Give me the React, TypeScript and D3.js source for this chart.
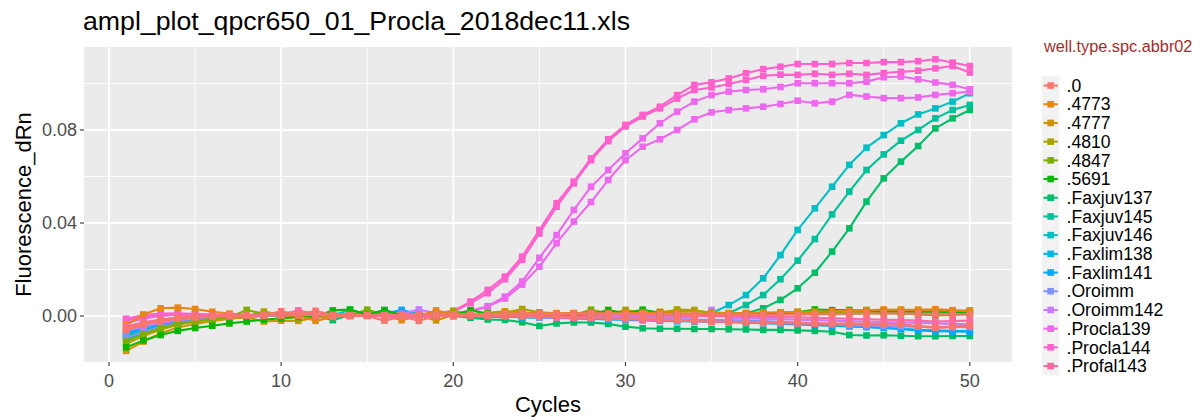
import React from "react";
import * as d3 from "d3";

// ---- data -------------------------------------------------------------
const cycles = Array.from({ length: 50 }, (_, i) => i + 1);

const typeLevels = [
  ".0", ".4773", ".4777", ".4810", ".4847", ".5691",
  ".Faxjuv137", ".Faxjuv145", ".Faxjuv146", ".Faxlim138", ".Faxlim141",
  ".Oroimm", ".Oroimm142", ".Procla139", ".Procla144", ".Profal143",
];

const xTicks = [0, 10, 20, 30, 40, 50];
const xMinor = [5, 15, 25, 35, 45];
const yTicks = [0, 0.04, 0.08];
const yMinor = [0.02, 0.06, 0.1];

// amplifying wells
const procla144a = [
  -0.0012, 0.0004, 0.0010, 0.0011, 0.0008, 0.0005, 0.0003, 0.0002, 0.0001, 0.0000,
  0.0000, 0.0001, 0.0002, 0.0003, 0.0004, 0.0005, 0.0006, 0.0008, 0.0012, 0.0022,
  0.0062, 0.0112, 0.0169, 0.0255, 0.0370, 0.0485, 0.0578, 0.0678, 0.0760, 0.0822,
  0.0865, 0.0900, 0.0950, 0.0994, 0.1005, 0.1022, 0.1044, 0.1062, 0.1072, 0.1084,
  0.1084, 0.1084, 0.1088, 0.1088, 0.1092, 0.1092, 0.1096, 0.1104, 0.1090, 0.1075,
];
const procla144b = [
  -0.0020, -0.0004, 0.0005, 0.0008, 0.0007, 0.0005, 0.0003, 0.0002, 0.0001, 0.0001,
  0.0001, 0.0002, 0.0002, 0.0003, 0.0004, 0.0004, 0.0005, 0.0006, 0.0010, 0.0018,
  0.0055, 0.0098, 0.0158, 0.0242, 0.0355, 0.0470, 0.0570, 0.0670, 0.0752, 0.0815,
  0.0858, 0.0893, 0.0935, 0.0972, 0.0983, 0.0998, 0.1015, 0.1033, 0.1038, 0.1037,
  0.1042, 0.1037, 0.1042, 0.1037, 0.1045, 0.1050, 0.1055, 0.1065, 0.1075, 0.1047,
];
const procla139a = [
  -0.0015, -0.0002, 0.0006, 0.0009, 0.0007, 0.0005, 0.0003, 0.0002, 0.0001, 0.0001,
  0.0001, 0.0002, 0.0002, 0.0003, 0.0003, 0.0004, 0.0004, 0.0005, 0.0007, 0.0012,
  0.0022, 0.0042, 0.0083, 0.0148, 0.0250, 0.0348, 0.0456, 0.0556, 0.0628, 0.0700,
  0.0764, 0.0829, 0.0879, 0.0922, 0.0950, 0.0965, 0.0972, 0.0975, 0.0985, 0.1001,
  0.1001, 0.1001, 0.1001, 0.1008, 0.1027, 0.1030, 0.1018, 0.1004, 0.0994, 0.0975,
];
const procla139b = [
  -0.0030, -0.0012, 0.0000, 0.0005, 0.0005, 0.0004, 0.0003, 0.0002, 0.0001, 0.0001,
  0.0001, 0.0001, 0.0002, 0.0002, 0.0003, 0.0003, 0.0004, 0.0004, 0.0006, 0.0010,
  0.0018, 0.0040, 0.0075, 0.0135, 0.0212, 0.0313, 0.0406, 0.0490, 0.0585, 0.0670,
  0.0728, 0.0760, 0.0800, 0.0846, 0.0876, 0.0886, 0.0893, 0.0900, 0.0912, 0.0926,
  0.0915, 0.0922, 0.0951, 0.0944, 0.0937, 0.0937, 0.0940, 0.0951, 0.0958, 0.0965,
];
const faxjuv146 = [
  -0.0080, -0.0055, -0.0036, -0.0023, -0.0014, -0.0008, -0.0004, -0.0001, 0.0001, 0.0002,
  0.0002, 0.0003, 0.0003, 0.0026, 0.0004, 0.0004, 0.0003, 0.0002, 0.0001, 0.0000,
  0.0000, 0.0001, 0.0002, 0.0003, 0.0002, 0.0001, 0.0000, 0.0001, 0.0002, 0.0003,
  0.0004, 0.0005, 0.0006, 0.0008, 0.0012, 0.0047, 0.0090, 0.0162, 0.0262, 0.0370,
  0.0463, 0.0556, 0.0650, 0.0724, 0.0778, 0.0829, 0.0867, 0.0893, 0.0922, 0.0958,
];
const faxjuv145 = [
  -0.0070, -0.0048, -0.0031, -0.0019, -0.0011, -0.0006, -0.0002, 0.0000, 0.0001, 0.0002,
  0.0002, 0.0003, 0.0004, 0.0005, 0.0006, 0.0007, 0.0006, 0.0005, 0.0004, 0.0003,
  0.0002, 0.0001, 0.0000, -0.0001, -0.0002, -0.0002, -0.0001, 0.0000, 0.0001, 0.0002,
  0.0003, 0.0004, 0.0005, 0.0006, 0.0008, 0.0012, 0.0047, 0.0090, 0.0158, 0.0238,
  0.0331, 0.0437, 0.0535, 0.0628, 0.0695, 0.0754, 0.0800, 0.0850, 0.0886, 0.0908,
];
const faxjuv137a = [
  -0.0090, -0.0063, -0.0042, -0.0027, -0.0017, -0.0010, -0.0005, -0.0002, 0.0000, 0.0001,
  0.0002, 0.0002, 0.0003, 0.0004, 0.0004, 0.0005, 0.0004, 0.0003, 0.0002, 0.0001,
  0.0000, -0.0001, -0.0002, -0.0002, -0.0001, 0.0000, 0.0001, 0.0002, 0.0002, 0.0003,
  0.0004, 0.0004, 0.0005, 0.0006, 0.0007, 0.0009, 0.0011, 0.0033, 0.0069, 0.0119,
  0.0186, 0.0277, 0.0377, 0.0492, 0.0592, 0.0664, 0.0731, 0.0807, 0.0850, 0.0886,
];

// non-amplifying wells
const faxjuv137b = [
  -0.0100, -0.0072, -0.0050, -0.0034, -0.0022, -0.0013, -0.0007, -0.0003, 0.0000, 0.0002,
  0.0003, 0.0003, -0.0018, 0.0004, 0.0005, 0.0026, 0.0004, 0.0003, 0.0002, 0.0000,
  -0.0008, -0.0015, -0.0017, -0.0027, -0.0043, -0.0032, -0.0028, -0.0028, -0.0034, -0.0046,
  -0.0053, -0.0055, -0.0055, -0.0056, -0.0056, -0.0057, -0.0058, -0.0060, -0.0060, -0.0062,
  -0.0064, -0.0068, -0.0082, -0.0084, -0.0083, -0.0085, -0.0087, -0.0087, -0.0086, -0.0086,
];
const faxlim138 = [
  -0.0080, -0.0056, -0.0038, -0.0025, -0.0016, -0.0009, -0.0004, -0.0001, 0.0001, 0.0002,
  0.0003, 0.0004, 0.0004, 0.0005, 0.0006, 0.0007, 0.0008, 0.0006, 0.0004, 0.0002,
  0.0000, -0.0002, -0.0004, -0.0005, -0.0006, -0.0008, -0.0009, -0.0010, -0.0012, -0.0014,
  -0.0016, -0.0017, -0.0018, -0.0019, -0.0020, -0.0022, -0.0024, -0.0026, -0.0029, -0.0032,
  -0.0036, -0.0040, -0.0043, -0.0046, -0.0050, -0.0055, -0.0060, -0.0062, -0.0064, -0.0065,
];
const faxlim141 = [
  -0.0075, -0.0052, -0.0035, -0.0023, -0.0014, -0.0008, -0.0003, 0.0000, 0.0002, 0.0003,
  0.0003, 0.0004, 0.0005, 0.0006, 0.0008, 0.0010, 0.0026, 0.0008, 0.0005, 0.0003,
  0.0001, -0.0001, -0.0003, -0.0005, -0.0007, -0.0009, -0.0011, -0.0013, -0.0015, -0.0017,
  -0.0019, -0.0021, -0.0023, -0.0024, -0.0025, -0.0027, -0.0029, -0.0031, -0.0034, -0.0037,
  -0.0040, -0.0042, -0.0045, -0.0048, -0.0052, -0.0056, -0.0062, -0.0066, -0.0067, -0.0068,
];
const oroimm = [
  -0.0095, -0.0068, -0.0047, -0.0031, -0.0020, -0.0012, -0.0006, -0.0002, 0.0000, 0.0001,
  0.0002, 0.0003, 0.0004, 0.0004, 0.0005, 0.0006, 0.0007, 0.0008, 0.0006, 0.0004,
  0.0002, 0.0000, -0.0002, -0.0004, -0.0006, -0.0007, -0.0008, -0.0009, -0.0010, -0.0011,
  -0.0012, -0.0013, -0.0014, -0.0015, -0.0016, -0.0018, -0.0020, -0.0022, -0.0025, -0.0028,
  -0.0032, -0.0036, -0.0040, -0.0042, -0.0044, -0.0045, -0.0046, -0.0047, -0.0047, -0.0048,
];
const oroimm142 = [
  -0.0065, -0.0045, -0.0030, -0.0019, -0.0011, -0.0006, -0.0002, 0.0001, 0.0002, 0.0003,
  0.0004, 0.0005, 0.0006, 0.0007, 0.0008, 0.0009, 0.0010, 0.0028, 0.0012, 0.0010,
  0.0008, 0.0006, 0.0004, 0.0003, 0.0002, 0.0001, 0.0000, -0.0001, -0.0002, -0.0003,
  -0.0004, -0.0005, -0.0006, -0.0007, 0.0026, -0.0009, -0.0010, -0.0012, -0.0014, -0.0016,
  -0.0018, -0.0020, -0.0022, -0.0024, -0.0026, -0.0028, -0.0030, -0.0032, -0.0034, -0.0036,
];
const std4773 = [
  -0.0040, 0.0006, 0.0033, 0.0036, 0.0030, 0.0018, 0.0010, 0.0005, 0.0003, 0.0002,
  0.0000, -0.0021, -0.0004, 0.0000, 0.0003, 0.0002, -0.0018, 0.0001, 0.0024, 0.0006,
  0.0004, 0.0006, 0.0010, 0.0012, 0.0010, 0.0010, 0.0012, 0.0011, 0.0010, 0.0012,
  0.0014, 0.0013, 0.0012, 0.0010, 0.0009, 0.0011, 0.0013, 0.0015, 0.0016, 0.0017,
  0.0018, 0.0020, 0.0022, 0.0024, 0.0028, 0.0027, 0.0027, 0.0029, 0.0025, 0.0021,
];
const std4777 = [
  -0.0150, -0.0110, -0.0074, -0.0050, -0.0034, -0.0022, -0.0012, -0.0006, -0.0024, -0.0020,
  -0.0021, -0.0006, -0.0002, 0.0000, 0.0002, 0.0001, 0.0000, 0.0002, -0.0019, 0.0004,
  0.0006, 0.0014, 0.0020, 0.0016, 0.0012, 0.0010, 0.0012, 0.0014, 0.0016, 0.0014,
  0.0012, 0.0018, 0.0022, 0.0020, 0.0016, 0.0012, 0.0010, 0.0011, 0.0013, 0.0015,
  0.0016, 0.0018, 0.0020, 0.0022, 0.0024, 0.0026, 0.0025, 0.0023, 0.0020, 0.0016,
];
const std4810 = [
  -0.0120, -0.0086, -0.0058, -0.0038, -0.0024, -0.0014, -0.0006, -0.0001, 0.0019, 0.0005,
  0.0003, 0.0002, 0.0004, 0.0005, 0.0006, 0.0004, 0.0003, 0.0005, 0.0006, 0.0022,
  0.0008, 0.0010, 0.0014, 0.0030, 0.0016, 0.0012, 0.0010, 0.0008, 0.0006, 0.0026,
  0.0014, 0.0010, 0.0028, 0.0026, 0.0012, 0.0008, 0.0010, 0.0012, 0.0014, 0.0018,
  0.0016, 0.0015, 0.0017, 0.0026, 0.0018, 0.0016, 0.0015, 0.0017, 0.0019, 0.0024,
];
const std4847 = [
  -0.0110, -0.0078, -0.0052, -0.0034, -0.0021, -0.0012, -0.0005, 0.0026, 0.0008, 0.0004,
  0.0002, 0.0001, 0.0003, 0.0004, 0.0027, 0.0006, 0.0004, 0.0003, 0.0002, 0.0000,
  -0.0002, -0.0004, -0.0003, -0.0001, 0.0001, 0.0002, 0.0004, 0.0027, 0.0010, 0.0006,
  0.0004, 0.0003, 0.0005, 0.0006, 0.0004, 0.0003, 0.0005, 0.0006, 0.0008, 0.0010,
  0.0012, 0.0014, 0.0016, 0.0018, 0.0015, 0.0012, 0.0006, 0.0002, 0.0004, 0.0008,
];
const std5691 = [
  -0.0135, -0.0105, -0.0082, -0.0064, -0.0052, -0.0042, -0.0032, -0.0024, -0.0016, -0.0010,
  -0.0005, -0.0002, 0.0024, 0.0028, 0.0006, 0.0024, 0.0004, 0.0002, 0.0001, 0.0003,
  0.0025, 0.0010, 0.0006, 0.0004, 0.0003, 0.0002, 0.0004, 0.0006, 0.0026, 0.0012,
  0.0027, 0.0014, 0.0010, 0.0008, 0.0006, 0.0005, 0.0007, 0.0009, 0.0012, 0.0016,
  0.0028, 0.0025, 0.0026, 0.0022, 0.0020, 0.0018, 0.0017, 0.0016, 0.0014, 0.0012,
];
const profal143a = [
  -0.0050, -0.0030, -0.0017, -0.0008, -0.0003, 0.0000, 0.0002, 0.0003, 0.0004, 0.0005,
  0.0024, 0.0006, 0.0005, 0.0004, 0.0003, 0.0002, 0.0001, 0.0000, 0.0001, 0.0002,
  0.0003, 0.0004, 0.0005, 0.0006, 0.0007, 0.0008, 0.0007, 0.0006, 0.0005, 0.0004,
  0.0003, 0.0002, 0.0001, 0.0000, -0.0001, -0.0002, -0.0003, -0.0004, -0.0005, -0.0006,
  -0.0008, -0.0010, -0.0012, -0.0014, -0.0016, -0.0018, -0.0020, -0.0024, -0.0022, -0.0020,
];
const profal143b = [
  -0.0045, -0.0027, -0.0015, -0.0007, -0.0002, 0.0001, 0.0003, 0.0004, 0.0005, 0.0006,
  0.0005, 0.0004, 0.0003, 0.0002, 0.0001, 0.0000, -0.0001, 0.0000, 0.0001, 0.0002,
  0.0002, 0.0001, 0.0000, -0.0002, -0.0004, -0.0006, -0.0008, -0.0010, -0.0012, -0.0014,
  -0.0016, -0.0018, -0.0020, -0.0022, -0.0024, -0.0025, -0.0026, -0.0027, -0.0028, -0.0030,
  -0.0032, -0.0033, -0.0034, -0.0034, -0.0035, -0.0036, -0.0045, -0.0050, -0.0048, -0.0045,
];
const ntcA = [
  -0.0060, -0.0038, -0.0022, -0.0012, -0.0006, -0.0003, 0.0000, 0.0002, 0.0003, 0.0004,
  0.0004, 0.0003, 0.0002, 0.0003, 0.0004, 0.0005, 0.0004, 0.0005, 0.0006, 0.0007,
  0.0008, 0.0008, 0.0009, 0.0010, 0.0010, 0.0009, 0.0010, 0.0011, 0.0010, 0.0009,
  0.0009, 0.0008, 0.0008, 0.0007, 0.0007, 0.0006, 0.0006, 0.0005, 0.0005, 0.0006,
  0.0007, 0.0008, 0.0009, 0.0010, 0.0010, 0.0011, 0.0010, 0.0009, 0.0008, 0.0006,
];
const ntcB = [
  -0.0052, -0.0031, -0.0017, -0.0008, -0.0003, 0.0000, 0.0002, 0.0003, 0.0004, 0.0020,
  0.0006, 0.0022, 0.0004, 0.0002, 0.0000, -0.0020, -0.0002, -0.0021, 0.0000, 0.0002,
  0.0003, 0.0002, 0.0001, 0.0000, -0.0002, -0.0004, -0.0005, -0.0006, -0.0008, -0.0010,
  -0.0012, -0.0014, -0.0018, -0.0022, -0.0024, -0.0026, -0.0028, -0.0030, -0.0031, -0.0032,
  -0.0033, -0.0034, -0.0033, -0.0034, -0.0035, -0.0036, -0.0044, -0.0050, -0.0046, -0.0040,
];

// wells in drawing order (amplifying first, flat wells on top)
const wells = [
  { type: ".Faxjuv137", values: faxjuv137a },
  { type: ".Faxjuv145", values: faxjuv145 },
  { type: ".Faxjuv146", values: faxjuv146 },
  { type: ".Procla139", values: procla139a },
  { type: ".Procla139", values: procla139b },
  { type: ".Procla144", values: procla144a },
  { type: ".Procla144", values: procla144b },
  { type: ".Faxjuv137", values: faxjuv137b },
  { type: ".Faxlim138", values: faxlim138 },
  { type: ".Faxlim141", values: faxlim141 },
  { type: ".Oroimm", values: oroimm },
  { type: ".Oroimm142", values: oroimm142 },
  { type: ".4777", values: std4777 },
  { type: ".4810", values: std4810 },
  { type: ".4847", values: std4847 },
  { type: ".5691", values: std5691 },
  { type: ".4773", values: std4773 },
  { type: ".Profal143", values: profal143a },
  { type: ".Profal143", values: profal143b },
  { type: ".0", values: ntcB },
  { type: ".0", values: ntcA },
];

// ---- colours: ggplot-style hue palette in polar CIELUV -----------------
function polarLuv(h: number, c = 100, l = 65): string {
  const hr = (h * Math.PI) / 180;
  const U = c * Math.cos(hr);
  const V = c * Math.sin(hr);
  const Y = 100 * (l > 7.999592 ? Math.pow((l + 16) / 116, 3) : l / 903.3);
  const u = U / (13 * l) + 0.1978398;
  const v = V / (13 * l) + 0.4683363;
  const X = (9 * Y * u) / (4 * v);
  const Z = -X / 3 - 5 * Y + (3 * Y) / v;
  const g = (t: number) => {
    const s = t / 100;
    const o = s > 0.00304 ? 1.055 * Math.pow(s, 1 / 2.4) - 0.055 : 12.92 * s;
    return Math.round(255 * Math.max(0, Math.min(1, o)));
  };
  const r = g(3.240479 * X - 1.53715 * Y - 0.498535 * Z);
  const gg = g(-0.969256 * X + 1.875992 * Y + 0.041556 * Z);
  const b = g(0.055648 * X - 0.204043 * Y + 1.057311 * Z);
  return d3.rgb(r, gg, b).formatHex();
}

const n = typeLevels.length;
const colorScale = d3
  .scaleOrdinal<string, string>()
  .domain(typeLevels)
  .range(typeLevels.map((_, i) => polarLuv(15 + (360 / n) * i)));

// ---- layout -------------------------------------------------------------
const W = 1203;
const H = 418;
const P = { left: 84, right: 1012, top: 47, bottom: 362 };
const FONT = "'Liberation Sans', Arial, Helvetica, sans-serif";

const x = d3.scaleLinear().domain([-1.45, 52.45]).range([P.left, P.right]);
const y = d3.scaleLinear().domain([-0.0198, 0.1157]).range([P.bottom, P.top]);

const line = d3
  .line<number>()
  .x((_, i) => x(cycles[i]))
  .y((d) => y(d));

const SQ = 6.6;
const LW = 2.1;

export default function App() {
  const legendTop = 76.2;
  const keyH = 18.7;
  const keyX = 1042;
  return (
    <svg
      width={W}
      height={H}
      style={{ position: "absolute", left: 0, top: 0, background: "#fff", fontFamily: FONT }}
    >
      <rect x={0} y={0} width={W} height={H} fill="#fff" />
      {/* panel */}
      <rect x={P.left} y={P.top} width={P.right - P.left} height={P.bottom - P.top} fill="#EBEBEB" />
      {yMinor.map((t) => (
        <line key={"ym" + t} x1={P.left} x2={P.right} y1={y(t)} y2={y(t)} stroke="#fff" strokeWidth={0.9} />
      ))}
      {xMinor.map((t) => (
        <line key={"xm" + t} x1={x(t)} x2={x(t)} y1={P.top} y2={P.bottom} stroke="#fff" strokeWidth={0.9} />
      ))}
      {yTicks.map((t) => (
        <line key={"yM" + t} x1={P.left} x2={P.right} y1={y(t)} y2={y(t)} stroke="#fff" strokeWidth={1.8} />
      ))}
      {xTicks.map((t) => (
        <line key={"xM" + t} x1={x(t)} x2={x(t)} y1={P.top} y2={P.bottom} stroke="#fff" strokeWidth={1.8} />
      ))}

      {/* series lines */}
      <g fill="none" strokeWidth={LW} strokeLinejoin="round">
        {wells.map((w, i) => (
          <path key={"l" + i} d={line(w.values) || ""} stroke={colorScale(w.type)} />
        ))}
      </g>
      {/* series points */}
      <g>
        {wells.map((w, i) => (
          <g key={"p" + i} fill={colorScale(w.type)}>
            {w.values.map((v, j) => (
              <rect key={j} x={x(cycles[j]) - SQ / 2} y={y(v) - SQ / 2} width={SQ} height={SQ} />
            ))}
          </g>
        ))}
      </g>

      {/* axes */}
      {yTicks.map((t) => (
        <g key={"yt" + t}>
          <line x1={P.left - 4} x2={P.left} y1={y(t)} y2={y(t)} stroke="#333" strokeWidth={1.1} />
          <text x={P.left - 7} y={y(t) + 6.3} textAnchor="end" fontSize={18} fill="#4D4D4D">
            {d3.format(".2f")(t)}
          </text>
        </g>
      ))}
      {xTicks.map((t) => (
        <g key={"xt" + t}>
          <line x1={x(t)} x2={x(t)} y1={P.bottom} y2={P.bottom + 4} stroke="#333" strokeWidth={1.1} />
          <text x={x(t)} y={P.bottom + 24.5} textAnchor="middle" fontSize={18} fill="#4D4D4D">
            {t}
          </text>
        </g>
      ))}
      <text x={(P.left + P.right) / 2} y={412} textAnchor="middle" fontSize={22} fill="#000">
        Cycles
      </text>
      <text
        transform={`translate(31,${(P.top + P.bottom) / 2}) rotate(-90)`}
        textAnchor="middle"
        fontSize={22}
        fill="#000"
      >
        Fluorescence_dRn
      </text>

      {/* title */}
      <text x={83} y={30} fontSize={26.7} fill="#000">
        ampl_plot_qpcr650_01_Procla_2018dec11.xls
      </text>

      {/* legend */}
      <text x={keyX + 2} y={52} fontSize={16.3} fill="#A62B2B">
        well.type.spc.abbr02
      </text>
      {typeLevels.map((lv, i) => {
        const cy = legendTop + keyH * i + keyH / 2;
        return (
          <g key={"lg" + lv}>
            <rect x={keyX} y={cy - keyH / 2} width={17.3} height={keyH} fill="#F2F2F2" />
            <line x1={keyX + 1.5} x2={keyX + 15.8} y1={cy} y2={cy} stroke={colorScale(lv)} strokeWidth={LW} />
            <rect x={keyX + 8.65 - SQ / 2} y={cy - SQ / 2} width={SQ} height={SQ} fill={colorScale(lv)} />
            <text x={keyX + 24.5} y={cy + 6.2} fontSize={17.6} fill="#000">
              {lv}
            </text>
          </g>
        );
      })}
    </svg>
  );
}
